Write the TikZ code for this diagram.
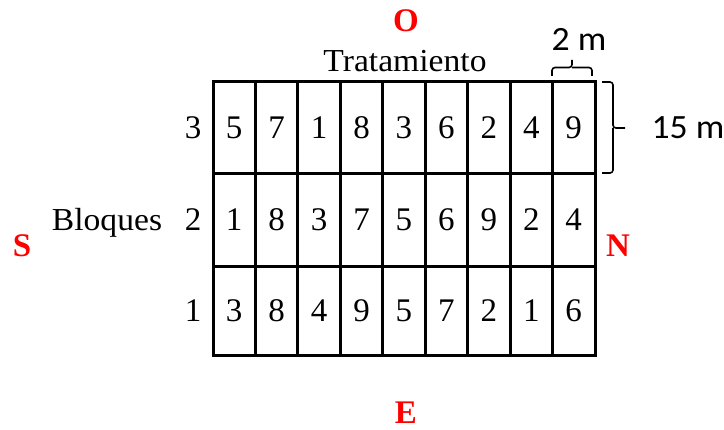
\documentclass[tikz,border=0pt]{standalone}
\usepackage{fontspec}
\setmainfont{Liberation Serif}
\newfontfamily\labelsans{Carlito}
\begin{document}
\begin{tikzpicture}[x=1pt,y=-1pt,
  num/.style={font=\fontsize{33}{33}\selectfont, inner sep=0pt},
  word/.style={font=\fontsize{32}{32}\selectfont, inner sep=0pt, xscale=1.05},
  compass/.style={font=\fontsize{33}{33}\selectfont\bfseries, text=red, inner sep=0pt},
  dim/.style={font=\labelsans\fontsize{34}{34}\selectfont, inner sep=0pt, xscale=1.05},
  gridline/.style={line width=3pt},
  bracel/.style={line width=1.6pt, rounded corners=3pt}]
\useasboundingbox (0,0) rectangle (724,430);
% grid
\draw[gridline] (213,82) rectangle (595,356);
\foreach \i in {1,...,8} {
  \draw[gridline] ({213+\i*42.44},82) -- ({213+\i*42.44},356);
}
\draw[gridline] (213,174) -- (595,174);
\draw[gridline] (213,267) -- (595,267);
% cell numbers
\foreach \v [count=\c] in {5,7,1,8,3,6,2,4,9}
  \node[num] (c3-\c) at ({213+(\c-0.5)*42.44},128) {\v};
\foreach \v [count=\c] in {1,8,3,7,5,6,9,2,4}
  \node[num] (c2-\c) at ({213+(\c-0.5)*42.44},220) {\v};
\foreach \v [count=\c] in {3,8,4,9,5,7,2,1,6}
  \node[num] (c1-\c) at ({213+(\c-0.5)*42.44},311) {\v};
% block labels
\node[num] (b3) at (193,128) {3};
\node[num] (b2) at (193,220) {2};
\node[num] (b1) at (193,311) {1};
\node[word, anchor=base] (bloques) at (107,231) {Bloques};
\node[word, anchor=base] (trat) at (405,72) {Tratamiento};
% compass
\node[compass] (o) at (406,21) {O};
\node[compass] (e) at (406,413) {E};
\node[compass] (s) at (22,246) {S};
\node[compass] (n) at (618,246) {N};
% dimension braces
\coordinate (tb1) at (552,76);
\coordinate (tb2) at (592,76);
\draw[bracel] (tb1) -- (552,67.5) -- (572,67.5) -- (572,60);
\draw[bracel] (tb2) -- (592,67.5) -- (572,67.5);
\node[dim] (twom) at (579,39) {2 m};
\coordinate (rb1) at (602,82);
\coordinate (rb2) at (602,173);
\draw[bracel] (rb1) -- (613,82) -- (613,128) -- (625,128);
\draw[bracel] (rb2) -- (613,173) -- (613,128);
\node[dim] (fifteen) at (688,128) {15 m};
\end{tikzpicture}
\end{document}
